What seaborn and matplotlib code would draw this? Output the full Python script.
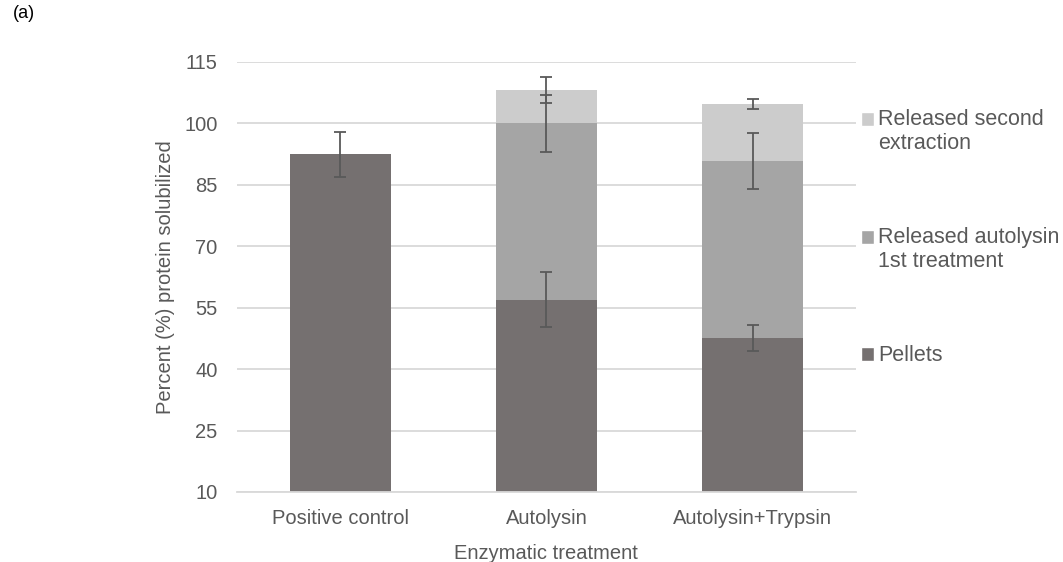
import numpy as np
import pandas as pd
import matplotlib
matplotlib.use("Agg")
import matplotlib.pyplot as plt
from matplotlib.patches import Patch, Rectangle
from matplotlib.legend_handler import HandlerPatch
import seaborn as sns

# Treatments and stacked contributions (% protein solubilized)
categories = ["Positive control", "Autolysin", "Autolysin+Trypsin"]
pellets = [92.5, 57.0, 47.6]
released_autolysin = [0.0, 43.0, 43.2]
released_second = [0.0, 8.2, 13.9]

# Standard deviations for each stacked segment
err_pellets = [5.5, 6.7, 3.1]
err_autolysin = [np.nan, 7.0, 6.85]
err_second = [np.nan, 3.15, 1.3]

series_names = ["Released second\nextraction", "Released autolysin\n1st treatment", "Pellets"]
colors = {"Pellets": "#757070", "Autolysin": "#a5a5a5", "Second": "#cccccc"}
text_color = "#595959"
grid_color = "#d9d9d9"

sns.set_theme(style="white")
plt.rcParams["font.family"] = ["Liberation Sans", "DejaVu Sans"]

pel = np.array(pellets)
top_aut = pel + np.array(released_autolysin)
top_sec = top_aut + np.array(released_second)

df = pd.DataFrame({
    "treatment": categories,
    "pellets": pel,
    "autolysin_top": top_aut,
    "total": top_sec,
})

fig = plt.figure(figsize=(10.63, 5.62), dpi=100)
ax = fig.add_axes([0.223, 0.1246, 0.582, 0.7651])

# Draw from the tallest cumulative layer down so each segment shows its share
bar_w = 0.49
bar_kw = dict(x="treatment", saturation=1, width=bar_w, errorbar=None, ax=ax,
              zorder=2, linewidth=0, edgecolor="none")
sns.barplot(data=df, y="total", color=colors["Second"], **bar_kw)
sns.barplot(data=df, y="autolysin_top", color=colors["Autolysin"], **bar_kw)
sns.barplot(data=df, y="pellets", color=colors["Pellets"], **bar_kw)

xpos = np.arange(len(categories))
eb_kw = dict(fmt="none", ecolor="#595959", elinewidth=1.3, capsize=4.5,
             capthick=1.3, zorder=4)
ax.errorbar(xpos, pel, yerr=err_pellets, **eb_kw)
ax.errorbar(xpos, top_aut, yerr=err_autolysin, **eb_kw)
ax.errorbar(xpos, top_sec, yerr=err_second, **eb_kw)

ax.set_ylim(10, 115)
ax.set_yticks(np.arange(10, 116, 15))
ax.set_xlim(-0.5, 2.5)
ax.yaxis.grid(True, color=grid_color, linewidth=1.3, zorder=0)
ax.set_axisbelow(True)
for side in ["top", "right", "left"]:
    ax.spines[side].set_visible(False)
ax.spines["bottom"].set_color(grid_color)
ax.spines["bottom"].set_linewidth(1.3)
ax.tick_params(axis="both", length=0, labelsize=14.5, labelcolor=text_color)
ax.tick_params(axis="x", pad=12)
ax.tick_params(axis="y", pad=14)

ax.set_xlabel("Enzymatic treatment", fontsize=14.5, color=text_color, labelpad=12)
ax.set_ylabel("Percent (%) protein solubilized", fontsize=14.5, color=text_color, labelpad=7)


def top_line_marker(n_lines):
    """Legend square aligned with the first line of a (possibly multi-line) label."""
    def make(legend, orig_handle, xdescent, ydescent, width, height, fontsize):
        dy = (n_lines - 1) * 0.6 * fontsize
        return Rectangle((-xdescent, -ydescent + dy), width, height)
    return HandlerPatch(patch_func=make)


handles = [Patch(facecolor=colors["Second"]),
           Patch(facecolor=colors["Autolysin"]),
           Patch(facecolor=colors["Pellets"])]
hmap = {h: top_line_marker(lbl.count("\n") + 1) for h, lbl in zip(handles, series_names)}
leg = fig.legend(handles, series_names, loc="upper left",
                 bbox_to_anchor=(852 / 1063, 1 - 100 / 562),
                 frameon=False, fontsize=15.5, labelspacing=3.4,
                 handlelength=0.62, handleheight=0.62, handletextpad=0.2,
                 borderaxespad=0, handler_map=hmap)
for t in leg.get_texts():
    t.set_color(text_color)

fig.text(13 / 1063, 1 - 13 / 562, "(a)", fontsize=13, color="#000000",
         ha="left", va="center")

fig.savefig("out.png", dpi=100, facecolor="white")
